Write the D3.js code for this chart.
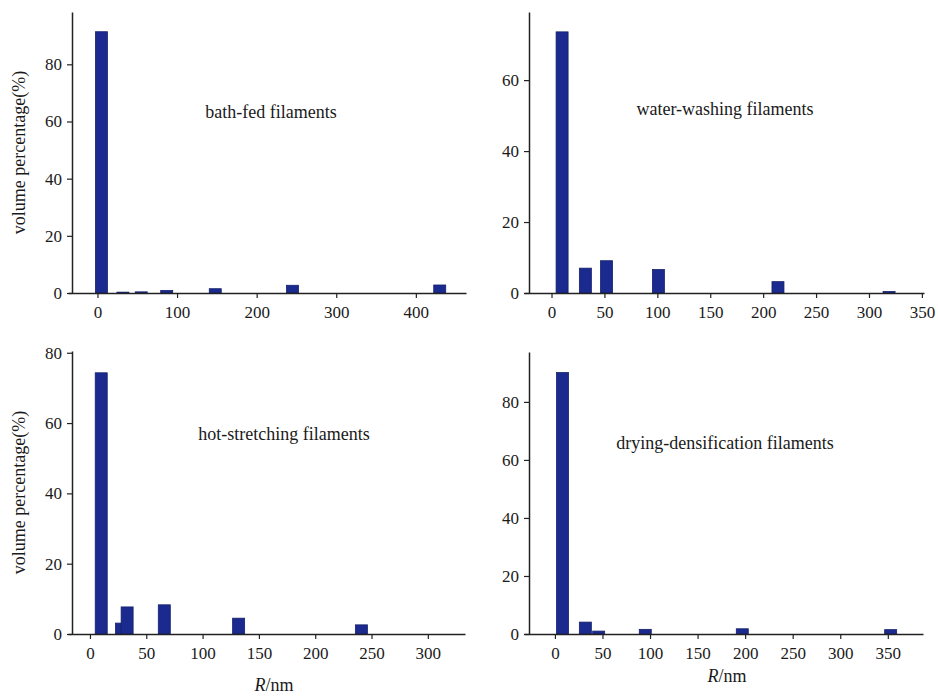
<!doctype html>
<html>
<head>
<meta charset="utf-8" />
<script src="https://d3js.org/d3.v7.min.js"></script>
<style>
  body { margin: 0; background: #fff; }
  text { font-family: "Liberation Serif", "Times New Roman", serif; fill: #1a1a1a; }
</style>
</head>
<body>
<script>
// bar centres (R, nm) and volume percentages
var bathR = [5, 32, 55, 87, 148, 245, 430];
var bathV = [91.4, 0.3, 0.4, 0.9, 1.5, 2.7, 2.8];

var washR = [10, 32, 52, 101, 214, 319];
var washV = [73.6, 7.0, 9.1, 6.6, 3.2, 0.4];

var hotR = [28, 10, 33, 66, 132, 241];
var hotV = [3.1, 74.3, 7.7, 8.3, 4.5, 2.6];

var dryR = [8, 32, 46, 95, 197, 353];
var dryV = [90.1, 4.1, 1.0, 1.6, 1.8, 1.5];

var titles = ["bath-fed filaments", "water-washing filaments",
              "hot-stretching filaments", "drying-densification filaments"];

var xTicks1 = [0, 100, 200, 300, 400];
var xTicks2 = [0, 50, 100, 150, 200, 250, 300, 350];
var xTicks3 = [0, 50, 100, 150, 200, 250, 300];
var yTicks80 = [0, 20, 40, 60, 80];
var yTicks60 = [0, 20, 40, 60];

var panels = [
  {R: bathR, V: bathV, title: titles[0], xd: [-37, 463], yd: [0, 98.3], xt: xTicks1, yt: yTicks80,
   ax: 72, x0: 68, x1: 466, top: 12, base: 293, ylab: true, xlab: false, tx: 271, ty: 118},
  {R: washR, V: washV, title: titles[1], xd: [-26, 352], yd: [0, 79.2], xt: xTicks2, yt: yTicks60,
   ax: 529, x0: 524, x1: 924, top: 12, base: 293, ylab: false, xlab: false, tx: 725, ty: 115},
  {R: hotR, V: hotV, title: titles[2], xd: [-19.5, 333], yd: [0, 80.5], xt: xTicks3, yt: yTicks80,
   ax: 72, x0: 68, x1: 465, top: 351, base: 634, ylab: true, xlab: true, tx: 284, ty: 440, lx: 274, ly: 691},
  {R: dryR, V: dryV, title: titles[3], xd: [-32.5, 387], yd: [0, 97.2], xt: xTicks2, yt: yTicks80,
   ax: 529, x0: 524, x1: 923, top: 352, base: 634, ylab: false, xlab: true, tx: 725, ty: 449, lx: 727, ly: 682}
];

var svg = d3.select("body").append("svg").attr("width", 938).attr("height", 696);

panels.forEach(function(p) {
  var x = d3.scaleLinear().domain(p.xd).range([p.x0, p.x1]);
  var y = d3.scaleLinear().domain(p.yd).range([p.base, p.top]);
  var g = svg.append("g");

  // bars
  g.selectAll("rect")
    .data(p.R.map(function(r, i) { return {r: r, v: p.V[i]}; }))
    .enter().append("rect")
    .attr("x", function(d) { return x(d.r) - 6; })
    .attr("width", 12)
    .attr("y", function(d) { return y(d.v); })
    .attr("height", function(d) { return p.base - y(d.v); })
    .style("fill", "#1b2a8f")
    .style("stroke", "#14206a")
    .style("stroke-width", 0.8);

  // minor ticks
  var xMinor = p.xt.slice(0, -1).map(function(t, i) { return (t + p.xt[i + 1]) / 2; });
  if (p.xt[p.xt.length - 1] + (p.xt[1] - p.xt[0]) / 2 < p.xd[1]) xMinor.push(p.xt[p.xt.length - 1] + (p.xt[1] - p.xt[0]) / 2);
  var yMinor = p.yt.map(function(t) { return t + 10; }).filter(function(t) { return t < p.yd[1]; });

  var xAxis = g.append("g").attr("transform", "translate(0," + p.base + ")");
  xAxis.call(d3.axisBottom(x).tickValues(xMinor).tickSize(3).tickFormat(""));
  xAxis.call(d3.axisBottom(x).tickValues(p.xt).tickSize(5).tickSizeOuter(0).tickPadding(8)
      .tickFormat(d3.format("d")));
  xAxis.selectAll("text").style("font-size", "17px");

  var yAxis = g.append("g").attr("transform", "translate(" + p.ax + ",0)");
  yAxis.call(d3.axisLeft(y).tickValues(yMinor).tickSize(3).tickFormat(""));
  yAxis.call(d3.axisLeft(y).tickValues(p.yt).tickSize(5).tickSizeOuter(0).tickPadding(5)
      .tickFormat(d3.format("d")));
  yAxis.selectAll("text").style("font-size", "17px");

  g.selectAll(".domain").style("stroke", "#222").style("stroke-width", 1.5);
  g.selectAll(".tick line").style("stroke", "#222").style("stroke-width", 1.2);

  g.append("text").attr("x", p.tx).attr("y", p.ty).attr("text-anchor", "middle")
    .style("font-size", "18px").text(p.title);

  if (p.ylab) {
    g.append("text")
      .attr("transform", "translate(25," + (p.top + p.base) / 2 + ") rotate(-90)")
      .attr("text-anchor", "middle").style("font-size", "18px")
      .text("volume percentage(%)");
  }
  if (p.xlab) {
    var t = g.append("text").attr("x", p.lx).attr("y", p.ly).attr("text-anchor", "middle")
      .style("font-size", "18px");
    t.append("tspan").style("font-style", "italic").text("R");
    t.append("tspan").text("/nm");
  }
});
</script>
</body>
</html>
